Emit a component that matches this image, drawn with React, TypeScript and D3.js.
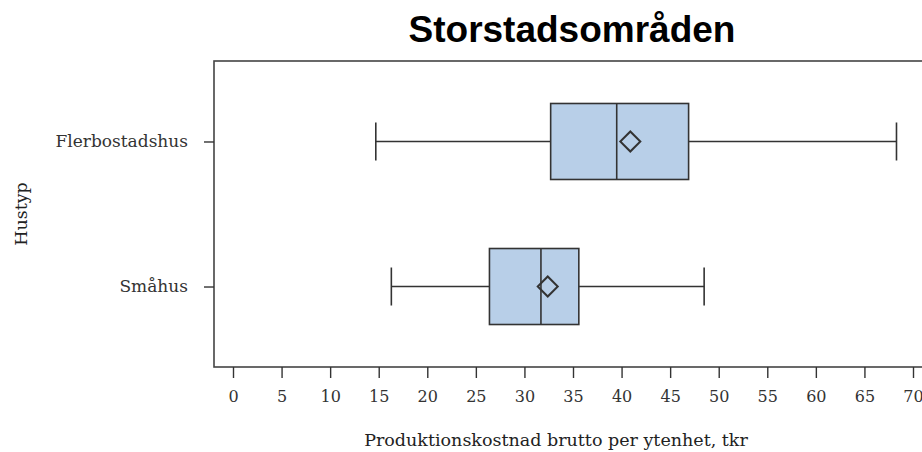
import React, { useEffect, useRef } from 'react';
import * as d3 from 'd3';

const categories = ['Flerbostadshus', 'Småhus'];
const minValues = [14.7, 16.3];
const q1Values = [32.7, 26.4];
const medianValues = [39.5, 31.7];
const q3Values = [46.9, 35.6];
const maxValues = [68.3, 48.5];
const meanValues = [40.9, 32.4];
const xTicks = [0, 5, 10, 15, 20, 25, 30, 35, 40, 45, 50, 55, 60, 65, 70];

const W = 922;
const H = 452;
const frame = { left: 214, top: 61, right: 930, bottom: 367 };

const App = () => {
  const svgRef = useRef<SVGSVGElement>(null);

  useEffect(() => {
    const svg = d3.select(svgRef.current);
    svg.selectAll('*').remove();

    const x = d3.scaleLinear().domain([0, 70]).range([233, 913]);
    const y = d3.scalePoint().domain(categories).range([frame.top, frame.bottom]).padding(0.555);
    const boxH = 76;
    const dark = '#333';
    const serif = '"DejaVu Serif", serif';

    // title
    svg.append('text')
      .attr('x', 572).attr('y', 42)
      .attr('text-anchor', 'middle')
      .style('font-family', '"Liberation Sans", Arial, sans-serif')
      .style('font-weight', 'bold')
      .style('font-size', '37px')
      .attr('fill', '#000')
      .text('Storstadsområden');

    // frame
    svg.append('rect')
      .attr('x', frame.left).attr('y', frame.top)
      .attr('width', frame.right - frame.left).attr('height', frame.bottom - frame.top)
      .attr('fill', 'none').attr('stroke', '#444').attr('stroke-width', 1.6);

    // x axis
    const xAxis = svg.append('g').attr('transform', `translate(0,${frame.bottom})`);
    xAxis.call(d3.axisBottom(x).tickValues(xTicks).tickSize(11).tickPadding(13).tickFormat(d3.format('d')));
    xAxis.select('.domain').remove();
    xAxis.selectAll('line').attr('stroke', dark).attr('stroke-width', 1.4);
    xAxis.selectAll('text')
      .attr('fill', '#333')
      .style('font-family', serif)
      .style('font-size', '16px');

    // y axis
    const yAxis = svg.append('g').attr('transform', `translate(${frame.left},0)`);
    yAxis.call(d3.axisLeft(y).tickSize(10).tickPadding(16));
    yAxis.select('.domain').remove();
    yAxis.selectAll('line').attr('stroke', dark).attr('stroke-width', 1.4);
    yAxis.selectAll('text')
      .attr('fill', '#333')
      .style('font-family', serif)
      .style('font-size', '17px');

    // axis titles
    svg.append('text')
      .attr('x', 556).attr('y', 446)
      .attr('text-anchor', 'middle')
      .attr('fill', '#222')
      .style('font-family', serif)
      .style('font-size', '17.5px')
      .text('Produktionskostnad brutto per ytenhet, tkr');

    svg.append('text')
      .attr('transform', 'translate(27,214) rotate(-90)')
      .attr('text-anchor', 'middle')
      .attr('fill', '#222')
      .style('font-family', serif)
      .style('font-size', '17.5px')
      .text('Hustyp');

    const rows = categories.map((c, i) => ({
      c, min: minValues[i], q1: q1Values[i], med: medianValues[i], q3: q3Values[i], max: maxValues[i], mean: meanValues[i],
    }));

    const g = svg.selectAll('.box').data(rows).join('g').attr('class', 'box');

    // whiskers
    g.append('line')
      .attr('x1', (d) => x(d.min)).attr('x2', (d) => x(d.q1))
      .attr('y1', (d) => y(d.c)!).attr('y2', (d) => y(d.c)!)
      .attr('stroke', dark).attr('stroke-width', 1.6);
    g.append('line')
      .attr('x1', (d) => x(d.q3)).attr('x2', (d) => x(d.max))
      .attr('y1', (d) => y(d.c)!).attr('y2', (d) => y(d.c)!)
      .attr('stroke', dark).attr('stroke-width', 1.6);
    g.selectAll('.cap')
      .data((d) => [d.min, d.max].map((v) => ({ v, c: d.c })))
      .join('line')
      .attr('class', 'cap')
      .attr('x1', (d) => x(d.v)).attr('x2', (d) => x(d.v))
      .attr('y1', (d) => y(d.c)! - 19).attr('y2', (d) => y(d.c)! + 19)
      .attr('stroke', dark).attr('stroke-width', 1.6);

    // box
    g.append('rect')
      .attr('x', (d) => x(d.q1)).attr('width', (d) => x(d.q3) - x(d.q1))
      .attr('y', (d) => y(d.c)! - boxH / 2).attr('height', boxH)
      .attr('fill', '#b8cfe8').attr('stroke', dark).attr('stroke-width', 1.6);
    g.append('line')
      .attr('x1', (d) => x(d.med)).attr('x2', (d) => x(d.med))
      .attr('y1', (d) => y(d.c)! - boxH / 2).attr('y2', (d) => y(d.c)! + boxH / 2)
      .attr('stroke', dark).attr('stroke-width', 1.6);

    // mean diamond
    const sym = d3.symbol().type(d3.symbolSquare).size(200);
    g.append('path')
      .attr('d', sym()!)
      .attr('transform', (d) => `translate(${x(d.mean)},${y(d.c)}) rotate(45)`)
      .attr('fill', 'none').attr('stroke', dark).attr('stroke-width', 2);
  }, []);

  return (
    <svg ref={svgRef} width={W} height={H} style={styles.chart} />
  );
};

export default App;

const styles = {
  chart: {
    position: 'absolute' as const,
    top: 0,
    left: 0,
    background: '#fff',
    display: 'block',
  },
};
